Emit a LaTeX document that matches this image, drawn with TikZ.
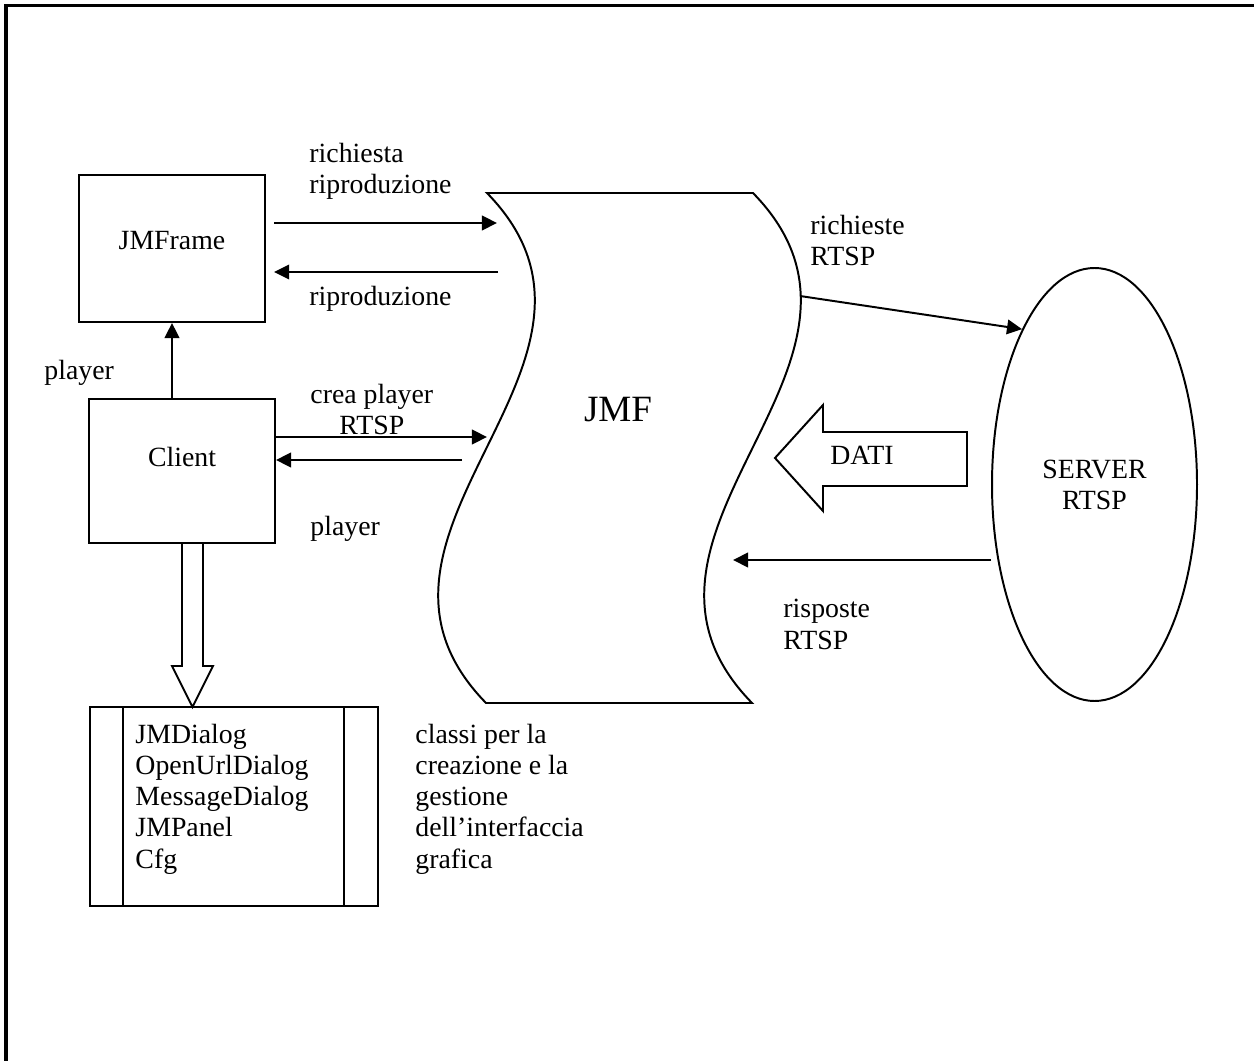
\documentclass[tikz,border=0pt]{standalone}
\usepackage{fontspec}
\setmainfont{Liberation Serif}
\usetikzlibrary{arrows.meta, shapes.geometric, calc}
\newcommand{\pxl}[1]{#1*0.015172cm}
\tikzset{
  box/.style={draw, line width=0.85pt, inner sep=0pt},
  arr/.style={-{Triangle[length=6.5pt,width=6.3pt]}, line width=0.85pt},
  lbl/.style={anchor=base west, align=left, inner sep=0pt, font=\fontsize{12}{13.4}\selectfont},
}

\begin{document}
\begin{tikzpicture}[x=0.015172cm, y=-0.015172cm, font=\fontsize{12}{13.4}\selectfont]
\useasboundingbox (0,0) rectangle (1254,1061);
% page frame
\draw[line width=1.3pt] (6,1061) -- (6,6) -- (1254,6);

% boxes
\node[box, text depth=7pt, minimum width={\pxl{186}}, minimum height={\pxl{147}}] (jmframe) at (172,248.5) {JMFrame};
\node[box, text depth=12pt, minimum width={\pxl{186}}, minimum height={\pxl{144}}] (client) at (182,471) {Client};
\node[box, minimum width={\pxl{288}}, minimum height={\pxl{199}}] (dlg) at (234,806.5) {};
\draw[line width=0.85pt] ($(dlg.north west)+(34,0)$) -- ($(dlg.south west)+(34,0)$);
\draw[line width=0.85pt] ($(dlg.north east)+(-35,0)$) -- ($(dlg.south east)+(-35,0)$);
% base = last line
\node[lbl] (dlgtxt) at (135,868) {JMDialog\\OpenUrlDialog\\MessageDialog\\JMPanel\\Cfg};

% JMF
\draw[line width=0.85pt] (487,193) -- (753,193) .. controls (919,363) and (586,533) .. (752,703)
  -- (486,703) .. controls (320,533) and (653,363) .. (487,193) -- cycle;
\node[font=\fontsize{16}{18}\selectfont] (jmf) at (618,410) {JMF};
\coordinate (in1) at (497,223);
\coordinate (out1) at (498,272);
\coordinate (in2) at (487,437);
\coordinate (out2) at (462,460);
\coordinate (rq) at (800,296);
\coordinate (rs) at (733,560);

% server
\node[draw, ellipse, line width=0.85pt, inner sep=0pt, align=center,
  minimum width={\pxl{205}}, minimum height={\pxl{433}}] (srv) at (1094.5,484.5) {SERVER\\RTSP};

% arrows
\draw[arr, shorten <=3.5pt] (jmframe.east |- in1) -- (in1);
\draw[arr, shorten >=3.5pt] (out1) -- (jmframe.east |- out1);
\draw[arr] (client.north -| jmframe.south) -- (jmframe.south);
\draw[arr] (client.east |- in2) -- (in2);
\draw[arr] (out2) -- (client.east |- out2);
\draw[arr] (rq) -- (srv.115);
\draw[arr] (srv.west |- rs) -- (rs);

% hollow arrows
\draw[line width=0.85pt] (182,543) -- (182,666) -- (172,666) -- (192.5,707) -- (213,666) -- (203,666) -- (203,543);
\draw[line width=0.85pt] (775,458) -- (823,405) -- (823,432) -- (967,432) -- (967,486) -- (823,486) -- (823,511) -- cycle;
\node (dati) at (862,455) {DATI};

% labels
\node[lbl] (l1) at (309,194) {richiesta\\riproduzione};
\node[lbl] (l2) at (309,306) {riproduzione};
\node[lbl] (l3) at (810,266) {richieste\\RTSP};
\node[lbl] (l4) at (44,380) {player};
\node[lbl, align=center] (l5) at (310,435) {crea player\\RTSP};
\node[lbl] (l6) at (310,535) {player};
\node[lbl] (l7) at (783,649) {risposte\\RTSP};
\node[lbl] (l8) at (415,868) {classi per la\\creazione e la\\gestione\\dell’interfaccia\\grafica};

\end{tikzpicture}
\end{document}
